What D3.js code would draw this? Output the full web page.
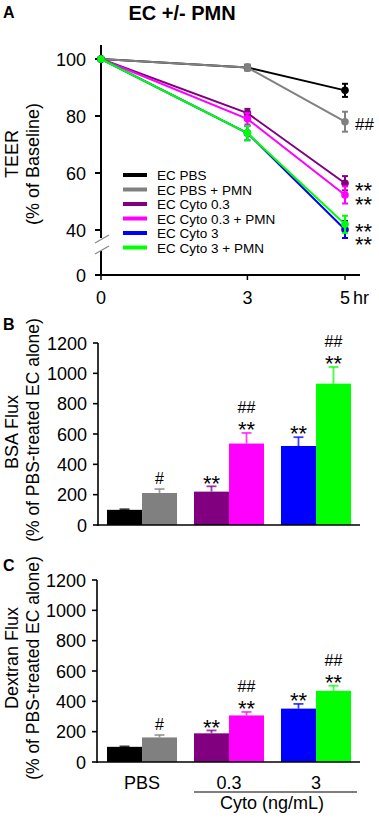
<!DOCTYPE html>
<html><head><meta charset="utf-8">
<script src="https://cdn.jsdelivr.net/npm/d3@7"></script>
<style>
body{margin:0;background:#fff}
svg{display:block}
text{font-family:"Liberation Sans",Arial,sans-serif;fill:#000}
</style>
</head><body>
<svg id="c" width="379" height="818"></svg>
<script>
// ---------- data ----------
const seriesNames = ["EC PBS","EC PBS + PMN","EC Cyto 0.3","EC Cyto 0.3 + PMN","EC Cyto 3","EC Cyto 3 + PMN"];
const seriesColors = ["#000000","#808080","#800080","#ff00ff","#0000ff","#00ff00"];
const teerTimes = [0,3,5];
const teerTimeLabels = ["0","3","5"];
const teerValues = [[100,97,89],[100,97,78],[100,81,56.4],[100,79,52.3],[100,74,40.2],[100,74,42]];
const teerErrors = [[0,1,2.3],[0,1,3.5],[0,1.5,2.5],[0,2,3],[0,2.5,3],[0,2.5,3]];
const teerMarks = ["","##","**","**","**","**"];
const teerTicks = [40,60,80,100];
const groups = ["PBS","0.3","3"];
const bsaValues = [100,211,220,537,521,932];
const bsaErrors = [4,26,35,70,58,110];
const bsaStars = ["","","**","**","**","**"];
const bsaHash = ["","#","","##","","##"];
const dexValues = [100,162,189,307,352,469];
const dexErrors = [3,16,19,23,31,34];
const dexStars = ["","","**","**","**","**"];
const dexHash = ["","#","","##","","##"];
const fluxTicks = [0,200,400,600,800,1000,1200];

// ---------- layout ----------
const svg = d3.select("#c");
const TICKFS = 18;

// Panel letters & title
svg.append("text").attr("x",3).attr("y",18).attr("font-size",16).attr("font-weight","bold").text("A");
svg.append("text").attr("x",182).attr("y",20).attr("text-anchor","middle").attr("font-size",20).attr("font-weight","bold").text("EC +/- PMN");
svg.append("text").attr("x",3).attr("y",330).attr("font-size",16).attr("font-weight","bold").text("B");
svg.append("text").attr("x",3).attr("y",571).attr("font-size",16).attr("font-weight","bold").text("C");

// ---------- Panel A ----------
const ax = d3.scaleLinear().domain([0,5]).range([101,345]);
const ay = d3.scaleLinear().domain([40,100]).range([230,59]);
const aZeroY = 275;
const gA = svg.append("g");

// y axis with break
gA.append("line").attr("x1",101).attr("x2",101).attr("y1",45).attr("y2",238).attr("stroke","#000").attr("stroke-width",2);
gA.append("line").attr("x1",101).attr("x2",101).attr("y1",251).attr("y2",aZeroY+1).attr("stroke","#000").attr("stroke-width",2);
gA.append("line").attr("x1",95).attr("y1",243).attr("x2",109).attr("y2",235).attr("stroke","#888").attr("stroke-width",1.2);
gA.append("line").attr("x1",95).attr("y1",254).attr("x2",109).attr("y2",246).attr("stroke","#888").attr("stroke-width",1.2);
teerTicks.forEach(t=>{
  gA.append("line").attr("x1",95).attr("x2",101).attr("y1",ay(t)).attr("y2",ay(t)).attr("stroke","#000").attr("stroke-width",2);
  gA.append("text").attr("x",86).attr("y",ay(t)+6.5).attr("text-anchor","end").attr("font-size",TICKFS).text(t);
});
gA.append("line").attr("x1",95).attr("x2",101).attr("y1",aZeroY).attr("y2",aZeroY).attr("stroke","#000").attr("stroke-width",2);
gA.append("text").attr("x",86).attr("y",aZeroY+6.5).attr("text-anchor","end").attr("font-size",TICKFS).text("0");
// x axis
gA.append("line").attr("x1",100).attr("x2",360).attr("y1",aZeroY).attr("y2",aZeroY).attr("stroke","#000").attr("stroke-width",2);
teerTimes.forEach((t,i)=>{
  gA.append("line").attr("x1",ax(t)).attr("x2",ax(t)).attr("y1",aZeroY).attr("y2",aZeroY+5).attr("stroke","#000").attr("stroke-width",1.5);
  gA.append("text").attr("x",ax(t)).attr("y",304).attr("text-anchor","middle").attr("font-size",TICKFS).text(teerTimeLabels[i]);
});
gA.append("text").attr("x",ax(5)+8).attr("y",304).attr("font-size",TICKFS).text("hr");

// axis title
gA.append("text").attr("transform","translate(18,154) rotate(-90)").attr("text-anchor","middle").attr("font-size",18).text("TEER");
gA.append("text").attr("transform","translate(39,164) rotate(-90)").attr("text-anchor","middle").attr("font-size",18).text("(% of Baseline)");

// series
const line = d3.line().x((d,i)=>ax(teerTimes[i])).y(d=>ay(d));
teerValues.forEach((vals,s)=>{
  const col = seriesColors[s];
  gA.append("path").datum(vals).attr("d",line).attr("fill","none").attr("stroke",col).attr("stroke-width",2);
  vals.forEach((v,i)=>{
    const e = teerErrors[s][i];
    if(e>0){
      const x = ax(teerTimes[i]);
      gA.append("line").attr("x1",x).attr("x2",x).attr("y1",ay(v+e)).attr("y2",ay(v-e)).attr("stroke",col).attr("stroke-width",2);
      gA.append("line").attr("x1",x-3).attr("x2",x+3).attr("y1",ay(v+e)).attr("y2",ay(v+e)).attr("stroke",col).attr("stroke-width",2);
      gA.append("line").attr("x1",x-3).attr("x2",x+3).attr("y1",ay(v-e)).attr("y2",ay(v-e)).attr("stroke",col).attr("stroke-width",2);
    }
    gA.append("circle").attr("cx",ax(teerTimes[i])).attr("cy",ay(v)).attr("r",3.8).attr("fill",col);
  });
});
// significance marks at 5 hr
const teerMarkShift = [0,2,2.4,5,9.7,2.4];
teerMarks.forEach((m,s)=>{
  if(!m) return;
  const cy = ay(teerValues[s][2]) + teerMarkShift[s];
  if(m==="##"){
    gA.append("text").attr("x",355).attr("y",cy+6).attr("font-size",17).text(m);
  } else {
    gA.append("text").attr("x",355).attr("y",cy+12.5).attr("font-size",22).text(m);
  }
});

// legend
seriesNames.forEach((n,i)=>{
  const y = 175 + i*14.5;
  gA.append("line").attr("x1",123).attr("x2",147).attr("y1",y).attr("y2",y).attr("stroke",seriesColors[i]).attr("stroke-width",4);
  gA.append("text").attr("x",157).attr("y",y+5).attr("font-size",13.5).attr("fill","#000").text(n);
});

// ---------- Bar panels ----------
function barPanel(cfg){
  const g = svg.append("g");
  const y = d3.scaleLinear().domain([0,1200]).range([cfg.y0, cfg.y0 - 182]);
  const x0 = d3.scaleBand().domain(groups).range([cfg.xs, cfg.xs+244]).paddingInner(0.195).paddingOuter(0);
  const x1 = d3.scaleBand().domain([0,1]).range([0,x0.bandwidth()]);
  // axes
  g.append("line").attr("x1",cfg.ax).attr("x2",cfg.ax).attr("y1",y(1200)).attr("y2",cfg.y0+1).attr("stroke","#000").attr("stroke-width",1.6);
  fluxTicks.forEach(t=>{
    g.append("line").attr("x1",cfg.ax-5).attr("x2",cfg.ax).attr("y1",y(t)).attr("y2",y(t)).attr("stroke","#000").attr("stroke-width",1.6);
    g.append("text").attr("x",cfg.ax-11).attr("y",y(t)+6.5).attr("text-anchor","end").attr("font-size",TICKFS).text(t);
  });
  // bars
  cfg.values.forEach((v,i)=>{
    const grp = groups[Math.floor(i/2)];
    const bx = x0(grp)+x1(i%2);
    const bw = x1.bandwidth();
    const col = seriesColors[i];
    const top = y(v+cfg.errors[i]);
    g.append("line").attr("x1",bx+bw/2).attr("x2",bx+bw/2).attr("y1",y(v)).attr("y2",top).attr("stroke",col).attr("stroke-width",1.8).attr("opacity",0.75);
    g.append("line").attr("x1",bx+bw/2-5).attr("x2",bx+bw/2+5).attr("y1",top).attr("y2",top).attr("stroke",col).attr("stroke-width",1.8).attr("opacity",0.75);
    g.append("rect").attr("x",bx).attr("y",y(v)).attr("width",bw).attr("height",y(0)-y(v)).attr("fill",col);
    const cx = bx+bw/2;
    let starC = null;
    if(cfg.stars[i]){
      starC = top - 8.5;
      g.append("text").attr("x",cx).attr("y",starC+12.8).attr("text-anchor","middle").attr("font-size",22).text(cfg.stars[i]);
    }
    if(cfg.hash[i]){
      const hc = starC!==null ? starC-17 : top-10.5;
      g.append("text").attr("x",cx).attr("y",hc+5.6).attr("text-anchor","middle").attr("font-size",16).text(cfg.hash[i]);
    }
  });
  g.append("line").attr("x1",cfg.ax).attr("x2",360).attr("y1",cfg.y0).attr("y2",cfg.y0).attr("stroke","#000").attr("stroke-width",1.6);
  // y titles
  g.append("text").attr("transform",`translate(18,${cfg.t1y}) rotate(-90)`).attr("text-anchor","middle").attr("font-size",18).text(cfg.title);
  g.append("text").attr("transform",`translate(39,${cfg.t2y}) rotate(-90)`).attr("text-anchor","middle").attr("font-size",17.5).text("(% of PBS-treated EC alone)");
  return {g,x0};
}

barPanel({y0:525, ax:98, xs:107, values:bsaValues, errors:bsaErrors, stars:bsaStars, hash:bsaHash, title:"BSA Flux", t1y:432, t2y:430});
const pc = barPanel({y0:762, ax:97, xs:107, values:dexValues, errors:dexErrors, stars:dexStars, hash:dexHash, title:"Dextran Flux", t1y:658, t2y:668});

// category labels
groups.forEach(gname=>{
  svg.append("text").attr("x",pc.x0(gname)+pc.x0.bandwidth()/2).attr("y",789).attr("text-anchor","middle").attr("font-size",TICKFS).text(gname);
});
svg.append("line").attr("x1",pc.x0("0.3")).attr("x2",357).attr("y1",792).attr("y2",792).attr("stroke","#000").attr("stroke-width",1.2);
svg.append("text").attr("x",272).attr("y",809).attr("text-anchor","middle").attr("font-size",TICKFS).text("Cyto (ng/mL)");
</script>
</body></html>
